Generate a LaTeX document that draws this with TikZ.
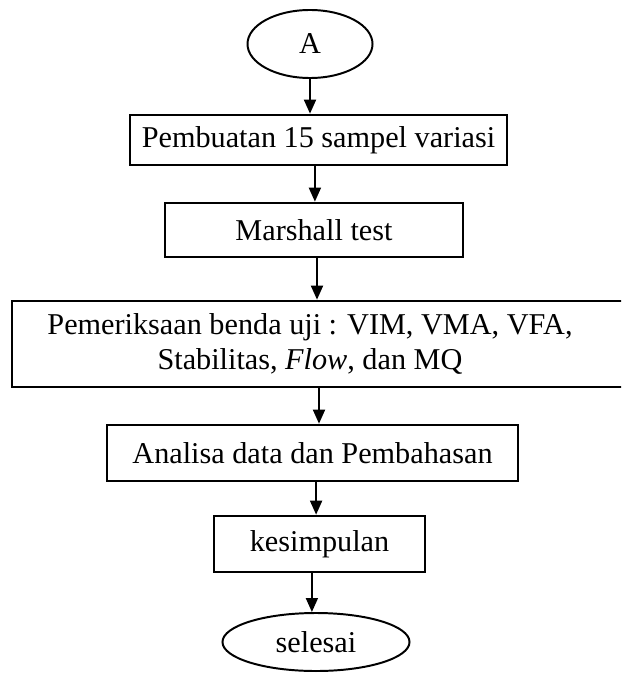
\documentclass[tikz,border=0pt]{standalone}
\usepackage{fontspec}
\setmainfont{Liberation Serif}
\usetikzlibrary{arrows.meta,shapes.geometric,positioning,calc}
\begin{document}
\begin{tikzpicture}[x=0.025cm,y=-0.025cm]
  \tikzstyle{box}=[draw=black, text=black, line width=1.9pt, rectangle, inner sep=0pt, align=center, font=\fontsize{21.5}{25}\selectfont]
  \tikzstyle{term}=[draw=black, text=black, line width=1.4pt, ellipse, inner sep=0pt, font=\fontsize{21.5}{25}\selectfont]
  \tikzstyle{flow}=[draw=black, line width=1.3pt, -{Triangle[length=0.35cm,width=0.3cm]}]
  \def\pad{\hspace*{1.6cm}}

  \clip (0,0) rectangle (621,675);

  \node [term, minimum width=3.125cm, minimum height=1.7cm] (start) at (310,44) {A};
  \node [box, minimum width=9.425cm, minimum height=1.25cm] (sampel) at (318.5,140) {Pembuatan 15 sampel variasi};
  \node [box, minimum width=7.45cm, minimum height=1.35cm] (marshall) at (314,230) {Marshall test};
  \node [box, minimum width=16.5cm, minimum height=2.15cm] (periksa) at (342,344)
    {Pemeriksaan benda uji : VIM, VMA, VFA,\pad\\ Stabilitas, \textit{Flow}, dan MQ\pad};
  \node [box, minimum width=10.275cm, minimum height=1.4cm] (analisa) at (312.5,453) {Analisa data dan Pembahasan};
  \node [box, minimum width=5.275cm, minimum height=1.4cm] (simpul) at (319.5,544) {kesimpulan};
  \node [term, minimum width=4.675cm, minimum height=1.45cm] (selesai) at (316,642) {selesai};

  \draw [flow] (start.south) -- (start.south |- sampel.north);
  \draw [flow] ([xshift=-0.09cm]sampel.south) -- ([xshift=-0.09cm]sampel.south |- marshall.north);
  \draw [flow] ([xshift=0.075cm]marshall.south) -- ([xshift=0.075cm]marshall.south |- periksa.north);
  \draw [flow] ([xshift=-0.575cm]periksa.south) -- ([xshift=-0.575cm]periksa.south |- analisa.north);
  \draw [flow] ([xshift=0.09cm]analisa.south) -- ([xshift=0.09cm]analisa.south |- simpul.north);
  \draw [flow] ([xshift=-0.19cm]simpul.south) -- ([xshift=-0.19cm]simpul.south |- selesai.north);
\end{tikzpicture}
\end{document}
